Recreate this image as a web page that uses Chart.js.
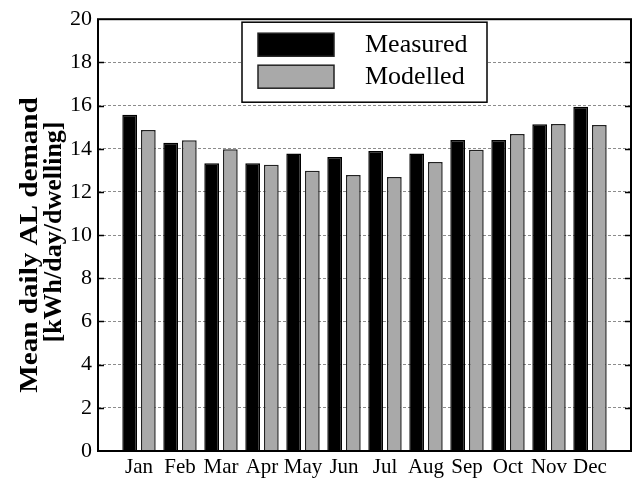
<!DOCTYPE html>
<html lang="en">
<head>
<meta charset="UTF-8">
<title>Mean daily AL demand</title>
<script src="https://cdn.jsdelivr.net/npm/chart.js"></script>
<style>
    html, body { margin: 0; padding: 0; background: #fff; }
    #wrap { width: 632px; height: 483px; }
</style>
</head>
<body>
<div id="wrap"><canvas id="chartContainer" width="632" height="483"></canvas></div>
<script>
// Data
const months = ['Jan', 'Feb', 'Mar', 'Apr', 'May', 'Jun', 'Jul', 'Aug', 'Sep', 'Oct', 'Nov', 'Dec'];
const measured = [15.57, 14.28, 13.33, 13.33, 13.78, 13.62, 13.9, 13.78, 14.4, 14.4, 15.14, 15.94];
const modelled = [14.87, 14.39, 13.98, 13.26, 12.98, 12.78, 12.69, 13.39, 13.95, 14.68, 15.15, 15.1];
const yTicks = [0, 2, 4, 6, 8, 10, 12, 14, 16, 18, 20];
const yTitle = ['Mean daily AL demand', '[kWh/day/dwelling]'];

const FONT = "'Liberation Serif', 'Times New Roman', serif";

function toPoints(values) {
    return values.map((v, i) => ({ x: i + 1, y: v }));
}

// frame, inner tick marks, axis title and the boxed legend
const framePlugin = {
    id: 'frame',
    afterDraw(chart) {
        const ctx = chart.ctx;
        const a = chart.chartArea;
        const y = chart.scales.y;
        ctx.save();
        ctx.strokeStyle = '#000';
        ctx.lineWidth = 1.5;
        yTicks.forEach(t => {
            if (t === 0 || t === 20) return;
            const py = Math.round(y.getPixelForValue(t)) + 0.5;
            ctx.beginPath();
            ctx.moveTo(a.left, py); ctx.lineTo(a.left + 6, py);
            ctx.moveTo(a.right, py); ctx.lineTo(a.right - 6, py);
            ctx.stroke();
        });
        ctx.lineWidth = 2;
        ctx.strokeRect(a.left, a.top, a.right - a.left, a.bottom - a.top);

        // y title, two rotated lines (first one is a bit stretched in the original)
        ctx.fillStyle = '#000';
        ctx.font = 'bold 26px ' + FONT;
        ctx.textAlign = 'center';
        ctx.textBaseline = 'middle';
        const titlePos = [[30, 245, 1.12], [54, 232, 1.0]];
        yTitle.forEach((line, i) => {
            ctx.save();
            ctx.translate(titlePos[i][0], titlePos[i][1]);
            ctx.rotate(-Math.PI / 2);
            ctx.scale(titlePos[i][2], 1);
            ctx.fillText(line, 0, 0);
            ctx.restore();
        });

        // legend
        const lx = a.left + 144, ly = a.top + 3, lw = 245, lh = 80;
        ctx.textAlign = 'left';
        ctx.fillStyle = '#fff';
        ctx.fillRect(lx, ly, lw, lh);
        ctx.lineWidth = 1.5;
        ctx.strokeRect(lx, ly, lw, lh);
        ctx.font = '26px ' + FONT;
        chart.data.datasets.forEach((ds, i) => {
            const sy = ly + 11 + i * 32;
            ctx.fillStyle = ds.backgroundColor;
            ctx.fillRect(lx + 16, sy, 76, 23);
            ctx.strokeStyle = '#222';
            ctx.lineWidth = 1.5;
            ctx.strokeRect(lx + 16, sy, 76, 23);
            ctx.fillStyle = '#000';
            ctx.fillText(ds.label, lx + 123, sy + 12);
        });
        ctx.restore();
    }
};

new Chart(document.getElementById('chartContainer'), {
    type: 'bar',
    data: {
        datasets: [{
            label: 'Measured',
            data: toPoints(measured),
            backgroundColor: '#000000',
            borderColor: '#000000',
            borderWidth: 1.5,
            barPercentage: 0.79,
            categoryPercentage: 0.91
        }, {
            label: 'Modelled',
            data: toPoints(modelled),
            backgroundColor: '#a9a9a9',
            borderColor: '#222222',
            borderWidth: 1.5,
            barPercentage: 0.79,
            categoryPercentage: 0.91
        }]
    },
    options: {
        responsive: false,
        animation: false,
        layout: { padding: { top: 16, right: 1, left: 0, bottom: 0 } },
        plugins: {
            legend: { display: false },
            tooltip: { enabled: false }
        },
        scales: {
            x: {
                type: 'linear',
                min: 0,
                max: 13,
                offset: false,
                grid: { display: false, drawTicks: false },
                border: { display: false },
                afterBuildTicks(scale) {
                    scale.ticks = months.map((m, i) => ({ value: i + 1 }));
                },
                afterFit(scale) { scale.height = 32; },
                ticks: {
                    autoSkip: false,
                    maxRotation: 0,
                    padding: 4,
                    color: '#000',
                    font: { family: FONT, size: 21 },
                    callback: (v) => months[v - 1] || ''
                }
            },
            y: {
                min: 0,
                max: 20,
                afterBuildTicks(scale) {
                    scale.ticks = yTicks.map(v => ({ value: v }));
                },
                afterFit(scale) { scale.width = 98; },
                grid: {
                    color: '#8c8c8c',
                    lineWidth: 1,
                    drawTicks: false
                },
                border: { display: false, dash: [3, 2] },
                ticks: {
                    padding: 6,
                    color: '#000',
                    font: { family: FONT, size: 22 }
                }
            }
        }
    },
    plugins: [framePlugin]
});
</script>
</body>
</html>
